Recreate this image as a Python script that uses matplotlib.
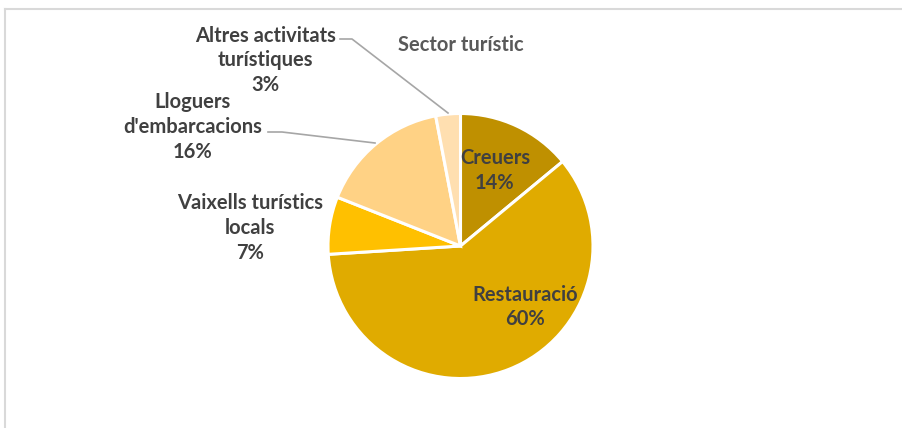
import matplotlib
matplotlib.use("Agg")
import matplotlib.pyplot as plt
from matplotlib.lines import Line2D

sectors = ["Creuers", "Restauració", "Vaixells turístics\nlocals",
           "Lloguers\nd'embarcacions", "Altres activitats\nturístiques"]
shares = [14, 60, 7, 16, 3]
colors = ["#BF9000", "#E0AB00", "#FFC000", "#FFD285", "#FFDFB0"]
title = "Sector turístic"

# label placement in pie units (radius = 1)
label_pos = [(0.26, 0.57), (0.49, -0.46), (-1.59, 0.135), (-2.02, 0.90), (-1.47, 1.40)]

plt.rcParams["font.family"] = ["Lato", "DejaVu Sans"]
text_color = "#404040"

W, H = 902, 428
cx, cy, r = 460.5, 246.0, 132.5


def px(x, y):
    # pixel position -> pie units
    return (x - cx) / r, (cy - y) / r


fig = plt.figure(figsize=(W / 100, H / 100), dpi=100)
ax = fig.add_axes([0, 0, 1, 1])

ax.pie(shares, colors=colors, startangle=90, counterclock=False, radius=1,
       wedgeprops=dict(edgecolor="white", linewidth=2.2), frame=True)
ax.set_xlim(-cx / r, (W - cx) / r)
ax.set_ylim(-(H - cy) / r, cy / r)
ax.set_aspect("auto")
ax.axis("off")

for name, val, (x, y) in zip(sectors, shares, label_pos):
    ax.text(x, y, f"{name}\n{val}%", ha="center", va="center", fontsize=14.5,
            fontweight="bold", color=text_color, linespacing=1.3)

ax.text(0, 1.52, title, ha="center", va="center", fontsize=14.5,
        fontweight="bold", color="#595959")

# leader lines for outside labels
lead = "#A6A6A6"
for pts in ([(340, 39), (352, 39), (448, 113)], [(268, 132), (282, 132), (375, 143)]):
    xs, ys = zip(*[px(*p) for p in pts])
    ax.plot(xs, ys, color=lead, lw=1.2)

# chart area frame (top and left edges)
fig.add_artist(Line2D([5 / W, 1], [1 - 9 / H, 1 - 9 / H], color="#D9D9D9", lw=1.5))
fig.add_artist(Line2D([5 / W, 5 / W], [0, 1 - 9 / H], color="#D9D9D9", lw=1.5))

fig.savefig("out.png", dpi=100)
